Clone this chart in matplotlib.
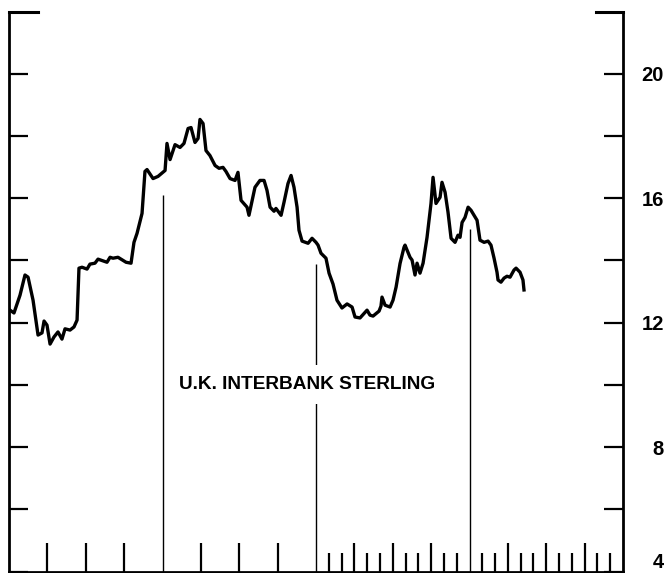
import numpy as np
import matplotlib.pyplot as plt
from matplotlib.ticker import FixedLocator

plt.rcParams['font.family'] = ['Liberation Sans', 'DejaVu Sans']

# months since start of the first year shown, and the interbank rate (%)
months = [0.08, 0.39, 0.86, 1.25, 1.49, 1.88, 2.27, 2.58, 2.74, 2.97,
          3.21, 3.52, 3.83, 4.14, 4.38, 4.77, 5.08, 5.32, 5.47, 5.71,
          6.10, 6.33, 6.72, 6.96, 7.66, 7.90, 8.13, 8.52, 9.15, 9.54,
          9.77, 10.01, 10.40, 10.63, 10.79, 11.26, 11.65, 12.20, 12.35, 12.59,
          12.98, 13.37, 13.68, 14.00, 14.23, 14.54, 14.78, 14.93, 15.17, 15.40,
          15.71, 16.11, 16.42, 16.73, 16.96, 17.28, 17.67, 17.90, 18.14, 18.61,
          18.76, 19.23, 19.62, 19.94, 20.17, 20.41, 20.72, 20.87, 21.27, 21.50,
          21.81, 22.05, 22.28, 22.52, 22.67, 22.91, 23.38, 23.69, 24.00, 24.16,
          24.39, 24.78, 25.02, 25.33, 25.64, 26.03, 26.43, 26.82, 27.05, 27.44,
          27.99, 28.22, 28.46, 28.93, 29.08, 29.16, 29.40, 29.79, 30.02, 30.26,
          30.57, 30.88, 30.96, 31.35, 31.51, 31.74, 31.90, 32.13, 32.37, 32.68,
          32.99, 33.15, 33.38, 33.70, 33.85, 34.09, 34.32, 34.56, 34.87, 35.10,
          35.26, 35.42, 35.65, 35.89, 36.12, 36.36, 36.59, 36.82, 37.14, 37.45,
          37.68, 37.92, 38.15, 38.23, 38.46, 38.70, 38.93, 39.17, 39.48, 39.64,
          39.95, 40.18, 40.26]
rates = [12.40, 12.31, 12.88, 13.53, 13.46, 12.72, 11.60, 11.67, 12.05, 11.92,
         11.31, 11.54, 11.70, 11.47, 11.80, 11.76, 11.86, 12.08, 13.75, 13.78,
         13.72, 13.88, 13.91, 14.04, 13.94, 14.10, 14.07, 14.10, 13.94, 13.91,
         14.58, 14.87, 15.51, 16.86, 16.92, 16.63, 16.70, 16.89, 17.76, 17.24,
         17.72, 17.63, 17.76, 18.24, 18.27, 17.79, 17.92, 18.53, 18.40, 17.53,
         17.37, 17.05, 16.96, 16.99, 16.86, 16.63, 16.57, 16.83, 15.93, 15.71,
         15.45, 16.35, 16.57, 16.57, 16.25, 15.71, 15.58, 15.67, 15.45, 15.87,
         16.47, 16.73, 16.35, 15.71, 14.97, 14.62, 14.55, 14.71, 14.58, 14.49,
         14.23, 14.07, 13.59, 13.24, 12.72, 12.47, 12.60, 12.50, 12.18, 12.15,
         12.40, 12.24, 12.21, 12.37, 12.53, 12.82, 12.56, 12.50, 12.72, 13.14,
         13.90, 14.42, 14.49, 14.10, 14.01, 13.53, 13.91, 13.59, 13.91, 14.74,
         15.83, 16.67, 15.83, 16.03, 16.51, 16.19, 15.55, 14.71, 14.58, 14.81,
         14.74, 15.22, 15.38, 15.71, 15.61, 15.45, 15.29, 14.65, 14.58, 14.62,
         14.49, 14.07, 13.62, 13.37, 13.30, 13.43, 13.49, 13.46, 13.69, 13.75,
         13.62, 13.37, 13.05]

year_marks = [12, 24, 36]
year_mark_tops = [16.1, 13.9, 15.0]
label_ticks = [4, 8, 12, 16, 20]
minor_y = [6, 10, 14, 18]
quarter_ticks = [3, 6, 9, 15, 18, 21, 27, 30, 33, 39, 42, 45]
month_ticks = [m for m in range(25, 48) if m % 3 != 0]
title = "U.K. INTERBANK STERLING"

fig = plt.figure(figsize=(6.65, 5.73), dpi=100)
ax = fig.add_axes([9 / 665, 1.5 / 573, 614 / 665, 560 / 573])

ax.plot(months, rates, color='black', lw=2.4, solid_joinstyle='round')
ax.vlines(year_marks, 4, year_mark_tops, color='black', lw=1.0)

ax.set_xlim(0, 48)
ax.set_ylim(4, 22)

# short caps at the top of each side
ax.plot([0, 2.3], [22, 22], color='black', lw=2.2, clip_on=False)
ax.plot([45.9, 48], [22, 22], color='black', lw=2.2, clip_on=False)

ax.spines['top'].set_visible(False)
for s in ['left', 'right', 'bottom']:
    ax.spines[s].set_linewidth(2.0)

ax.yaxis.set_major_locator(FixedLocator(label_ticks))
ax.yaxis.set_minor_locator(FixedLocator(minor_y))
ax.tick_params(axis='y', which='both', direction='in', left=True, right=True,
               labelleft=False, labelright=True, length=14, width=1.6,
               labelsize=14.5, pad=29.5)
for lab in ax.get_yticklabels():
    lab.set_horizontalalignment('right')
    lab.set_fontweight('bold')
# the lowest label sits on the bottom edge
ax.get_yticklabels()[0].set_verticalalignment('bottom')

ax.xaxis.set_major_locator(FixedLocator(quarter_ticks))
ax.xaxis.set_minor_locator(FixedLocator(month_ticks))
ax.tick_params(axis='x', which='major', direction='in', length=21, width=1.6,
               labelbottom=False)
ax.tick_params(axis='x', which='minor', direction='in', length=13.5, width=1.6)

ax.text(23.3, 10.0, title, ha='center', va='center', fontsize=13.7,
        fontweight='bold',
        bbox=dict(facecolor='white', edgecolor='none', pad=8))

plt.savefig('out.png', dpi=100)
plt.close()
